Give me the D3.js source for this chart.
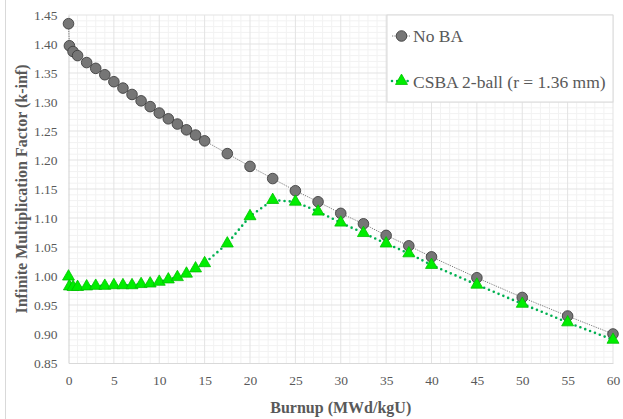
<!DOCTYPE html>
<html>
<head>
<meta charset="utf-8">
<script src="https://cdn.jsdelivr.net/npm/d3@7/dist/d3.min.js"></script>
<style>
html,body{margin:0;padding:0;background:#fff;}
svg{display:block;}
svg text{font-family:"Liberation Serif","Times New Roman",Times,"DejaVu Serif",serif;}
</style>
</head>
<body>
<svg id="chart" width="623" height="419"></svg>
<script>
const burnupNoBA = [0, 0.1, 0.5, 1, 2, 3, 4, 5, 6, 7, 8, 9, 10, 11, 12, 13, 14, 15, 17.5, 20, 22.5, 25, 27.5, 30, 32.5, 35, 37.5, 40, 45, 50, 55, 60];
const kinfNoBA = [1.435, 1.397, 1.387, 1.380, 1.368, 1.358, 1.347, 1.335, 1.324, 1.313, 1.302, 1.292, 1.281, 1.271, 1.262, 1.252, 1.243, 1.233, 1.211, 1.189, 1.168, 1.147, 1.128, 1.108, 1.090, 1.070, 1.052, 1.033, 0.997, 0.963, 0.931, 0.900];
const burnupCSBA = [0, 0.1, 0.5, 1, 2, 3, 4, 5, 6, 7, 8, 9, 10, 11, 12, 13, 14, 15, 17.5, 20, 22.5, 25, 27.5, 30, 32.5, 35, 37.5, 40, 45, 50, 55, 60];
const kinfCSBA = [0.999, 0.982, 0.981, 0.981, 0.982, 0.983, 0.983, 0.984, 0.984, 0.984, 0.986, 0.987, 0.990, 0.994, 0.998, 1.004, 1.013, 1.022, 1.056, 1.103, 1.131, 1.128, 1.111, 1.092, 1.074, 1.056, 1.039, 1.019, 0.985, 0.952, 0.920, 0.890];
const xTicks = [0, 5, 10, 15, 20, 25, 30, 35, 40, 45, 50, 55, 60];
const yTicks = [0.85, 0.90, 0.95, 1.00, 1.05, 1.10, 1.15, 1.20, 1.25, 1.30, 1.35, 1.40, 1.45];
const seriesNames = ["No BA", "CSBA 2-ball (r = 1.36 mm)"];
const xTitle = "Burnup (MWd/kgU)";
const yTitle = "Infinite Multiplication Factor (k-inf)";

const svg = d3.select("#chart");
const L = 68.5, R = 613, T = 15, B = 363;
const x = d3.scaleLinear().domain([0, 60]).range([L, R]);
const y = d3.scaleLinear().domain([0.85, 1.45]).range([B, T]);
const font = '"Liberation Serif","Times New Roman",Times,"DejaVu Serif",serif';
const textCol = "#595959";

// chart-area left border
svg.append("line").attr("x1", 5.5).attr("x2", 5.5).attr("y1", 0).attr("y2", 419)
  .attr("stroke", "#d9d9d9").attr("stroke-width", 1);

// minor grid
const g = svg.append("g");
g.selectAll(".mx").data(d3.range(0, 61, 1).filter(v => v % 5 !== 0)).enter().append("line")
  .attr("x1", d => x(d)).attr("x2", d => x(d)).attr("y1", T).attr("y2", B)
  .attr("stroke", "#f2f2f2").attr("stroke-width", 1);
g.selectAll(".my").data(d3.range(85, 146, 1).filter(v => v % 5 !== 0).map(v => v / 100)).enter().append("line")
  .attr("y1", d => y(d)).attr("y2", d => y(d)).attr("x1", L).attr("x2", R)
  .attr("stroke", "#f2f2f2").attr("stroke-width", 1);
// major grid
g.selectAll(".Mx").data(xTicks.slice(1)).enter().append("line")
  .attr("x1", d => x(d)).attr("x2", d => x(d)).attr("y1", T).attr("y2", B)
  .attr("stroke", "#e3e3e3").attr("stroke-width", 1);
g.selectAll(".My").data(yTicks.slice(1)).enter().append("line")
  .attr("y1", d => y(d)).attr("y2", d => y(d)).attr("x1", L).attr("x2", R)
  .attr("stroke", "#e3e3e3").attr("stroke-width", 1);

// axes
const xAxis = d3.axisBottom(x).tickValues(xTicks).tickSize(0).tickPadding(12).tickFormat(d3.format("d"));
const yAxis = d3.axisLeft(y).tickValues(yTicks).tickSize(0).tickPadding(11).tickFormat(d3.format(".2f"));
const gx = svg.append("g").attr("transform", `translate(0,${B})`).call(xAxis);
const gy = svg.append("g").attr("transform", `translate(${L},0)`).call(yAxis);
[gx, gy].forEach(a => {
  a.attr("font-family", null);
  a.select(".domain").attr("stroke", "#d9d9d9").attr("stroke-width", 1.2);
  a.selectAll("text").style("font-family", font).attr("font-size", 13.5).attr("fill", textCol);
});

// No BA series
const dataNo = burnupNoBA.map((b, i) => [b, kinfNoBA[i]]);
const dataCS = burnupCSBA.map((b, i) => [b, kinfCSBA[i]]);
const line = d3.line().x(d => x(d[0])).y(d => y(d[1]));

svg.append("path").datum(dataNo).attr("d", line).attr("fill", "none")
  .attr("stroke", "#595959").attr("stroke-width", 0.8).attr("stroke-dasharray", "1.2 1.2");
svg.selectAll(".c").data(dataNo).enter().append("circle")
  .attr("cx", d => x(d[0])).attr("cy", d => y(d[1])).attr("r", 5.3)
  .attr("fill", "#767676").attr("stroke", "#3f3f3f").attr("stroke-width", 0.9);

// CSBA series
svg.append("path").datum(dataCS).attr("d", line).attr("fill", "none")
  .attr("stroke", "#00b050").attr("stroke-width", 2.6).attr("stroke-linecap", "round")
  .attr("stroke-dasharray", "0 5.2");
const tri = d3.symbol().type(d3.symbolTriangle).size(62);
svg.selectAll(".t").data(dataCS).enter().append("path")
  .attr("d", tri).attr("transform", d => `translate(${x(d[0])},${y(d[1])})`)
  .attr("fill", "#00ee00").attr("stroke", "#00c000").attr("stroke-width", 0.8);

// legend
const lg = svg.append("g");
lg.append("rect").attr("x", 387).attr("y", 15).attr("width", 226).attr("height", 87)
  .attr("fill", "#fff").attr("stroke", "#d9d9d9").attr("stroke-width", 1);
lg.append("line").attr("x1", 392).attr("x2", 411).attr("y1", 36).attr("y2", 36)
  .attr("stroke", "#595959").attr("stroke-width", 0.8).attr("stroke-dasharray", "1.2 1.2");
lg.append("circle").attr("cx", 401.5).attr("cy", 36).attr("r", 5.3)
  .attr("fill", "#767676").attr("stroke", "#3f3f3f").attr("stroke-width", 0.9);
lg.append("text").attr("x", 413).attr("y", 42).text(seriesNames[0])
  .style("font-family", font).attr("font-size", 17.5).attr("fill", textCol);
lg.append("line").attr("x1", 392).attr("x2", 411).attr("y1", 81).attr("y2", 81)
  .attr("stroke", "#00b050").attr("stroke-width", 2.6).attr("stroke-linecap", "round").attr("stroke-dasharray", "0 5.2");
lg.append("path").attr("d", tri).attr("transform", "translate(401.5,81)")
  .attr("fill", "#00ee00").attr("stroke", "#00c000").attr("stroke-width", 0.8);
lg.append("text").attr("x", 413).attr("y", 87.5).text(seriesNames[1])
  .style("font-family", font).attr("font-size", 17.5).attr("fill", textCol);

// axis titles
svg.append("text").attr("x", (L + R) / 2).attr("y", 413).attr("text-anchor", "middle")
  .style("font-family", font).attr("font-size", 16).attr("font-weight", "bold").attr("fill", textCol)
  .text(xTitle);
svg.append("text").attr("transform", `translate(27,${(T + B) / 2}) rotate(-90)`).attr("text-anchor", "middle")
  .style("font-family", font).attr("font-size", 16).attr("font-weight", "bold").attr("fill", textCol)
  .text(yTitle);
</script>
</body>
</html>
